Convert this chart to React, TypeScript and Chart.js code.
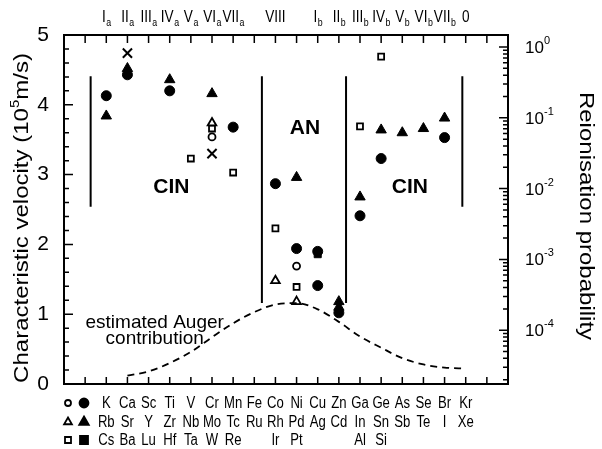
import React, { useEffect, useRef } from 'react';
import { Chart, registerables } from 'chart.js';
Chart.register(...registerables);

// ---------- data ----------
const elements = ['K', 'Ca', 'Sc', 'Ti', 'V', 'Cr', 'Mn', 'Fe', 'Co', 'Ni', 'Cu', 'Zn', 'Ga', 'Ge', 'As', 'Se', 'Br', 'Kr'];
const row2Elements = ['Rb', 'Sr', 'Y', 'Zr', 'Nb', 'Mo', 'Tc', 'Ru', 'Rh', 'Pd', 'Ag', 'Cd', 'In', 'Sn', 'Sb', 'Te', 'I', 'Xe'];
const row3Elements = ['Cs', 'Ba', 'Lu', 'Hf', 'Ta', 'W', 'Re', '', 'Ir', 'Pt', '', '', 'Al', 'Si', '', '', '', ''];

const groupNames = ['I', 'II', 'III', 'IV', 'V', 'VI', 'VII', 'VIII', 'I', 'II', 'III', 'IV', 'V', 'VI', 'VII', '0'];
const groupSubs = ['a', 'a', 'a', 'a', 'a', 'a', 'a', '', 'b', 'b', 'b', 'b', 'b', 'b', 'b', ''];
const groupColumns = ['K', 'Ca', 'Sc', 'Ti', 'V', 'Cr', 'Mn', 'Co', 'Cu', 'Zn', 'Ga', 'Ge', 'As', 'Se', 'Br', 'Kr'];

const filledCircleEl = ['K', 'Ca', 'Ti', 'Mn', 'Co', 'Ni', 'Cu', 'Cu', 'Zn', 'Ga', 'Ge', 'Br'];
const filledCircleV = [4.13, 4.43, 4.2, 3.68, 2.87, 1.94, 1.9, 1.41, 1.02, 2.41, 3.23, 3.53];
const filledTriangleEl = ['K', 'Ca', 'Ti', 'Cr', 'Ni', 'Zn', 'Zn', 'Ga', 'Ge', 'As', 'Se', 'Br'];
const filledTriangleV = [3.84, 4.52, 4.36, 4.16, 2.96, 1.1, 1.18, 2.68, 3.64, 3.6, 3.66, 3.81];
const filledSquareEl = ['Cu'];
const filledSquareV = [1.86];
const openCircleEl = ['Cr', 'Ni'];
const openCircleV = [3.54, 1.69];
const openTriangleEl = ['Cr', 'Co', 'Ni'];
const openTriangleV = [3.74, 1.48, 1.18];
const openSquareEl = ['V', 'Cr', 'Mn', 'Co', 'Ni', 'Ga', 'Ge'];
const openSquareV = [3.23, 3.66, 3.03, 2.23, 1.39, 3.69, 4.69];
const crossEl = ['Ca', 'Cr'];
const crossV = [4.74, 3.3];

const augerEl = ['Ca', 'Sc', 'Ti', 'V', 'Cr', 'Mn', 'Fe', 'Co', 'Ni', 'Cu', 'Zn', 'Ga', 'Ge', 'As', 'Se', 'Br', 'Kr'];
const augerV = [0.12, 0.18, 0.3, 0.46, 0.67, 0.87, 1.03, 1.14, 1.16, 1.07, 0.89, 0.68, 0.52, 0.37, 0.28, 0.235, 0.22];

// region boundaries (x in element-position units, y in velocity units)
const boundaryX = [1.26, 9.36, 13.34, 18.84];
const boundaryTop = [4.41, 4.41, 4.41, 4.41];
const boundaryBottom = [2.54, 1.16, 1.16, 2.54];

const regionLabels = ['CIN', 'AN', 'CIN'];
const regionLabelX = [5.08, 11.4, 16.36];
const regionLabelY = [2.85, 3.69, 2.85];

const probDecades = [0, -1, -2, -3, -4];

const FONT = "'Liberation Sans', Arial, Helvetica, sans-serif";

const posOf = (el: string) => elements.indexOf(el) + 2;
const pts = (els: string[], vals: number[]) => els.map((e, i) => ({ x: posOf(e), y: vals[i] }));

function txt(ctx: CanvasRenderingContext2D, s: string, x: number, y: number, size: number, sx = 1, align: CanvasTextAlign = 'center', bold = false) {
  ctx.save();
  ctx.font = `${bold ? 'bold ' : ''}${size}px ${FONT}`;
  ctx.translate(x, y);
  ctx.scale(sx, 1);
  ctx.textAlign = align;
  ctx.textBaseline = 'alphabetic';
  ctx.fillStyle = '#000';
  ctx.fillText(s, 0, 0);
  ctx.restore();
}

function marker(ctx: CanvasRenderingContext2D, kind: string, filled: boolean, x: number, y: number) {
  ctx.save();
  ctx.lineWidth = 1.8;
  ctx.strokeStyle = '#000';
  ctx.fillStyle = filled ? '#000' : '#fff';
  ctx.beginPath();
  if (kind === 'circle') ctx.arc(x, y, filled ? 4.5 : 3, 0, Math.PI * 2);
  else if (kind === 'triangle') {
    const r = filled ? 5.5 : 4.5;
    ctx.moveTo(x, y - r);
    ctx.lineTo(x + r * 0.866, y + r * 0.5);
    ctx.lineTo(x - r * 0.866, y + r * 0.5);
    ctx.closePath();
  } else {
    const h = filled ? 4 : 3;
    ctx.rect(x - h, y - h, 2 * h, 2 * h);
  }
  ctx.fill();
  ctx.stroke();
  ctx.restore();
}

const decorPlugin = {
  id: 'decor',
  afterDraw(chart: any) {
    const ctx: CanvasRenderingContext2D = chart.ctx;
    const { left, right, top, bottom } = chart.chartArea;
    const xs = chart.scales.x;
    const ys = chart.scales.y;
    const y2 = chart.scales.y2;
    ctx.save();
    ctx.strokeStyle = '#000';
    ctx.fillStyle = '#000';
    // frame
    ctx.lineWidth = 2;
    ctx.strokeRect(left, top, right - left, bottom - top);
    // ticks
    ctx.lineWidth = 1.5;
    ctx.beginPath();
    for (let i = 1; i <= 20; i++) {
      const px = xs.getPixelForValue(i);
      ctx.moveTo(px, bottom);
      ctx.lineTo(px, bottom - 7);
      ctx.moveTo(px, top);
      ctx.lineTo(px, top + 8);
    }
    for (let k = 1; k < 25; k++) {
      const v = k * 0.2;
      const py = ys.getPixelForValue(v);
      const len = k % 5 === 0 ? 9 : 5;
      ctx.moveTo(left, py);
      ctx.lineTo(left + len, py);
    }
    for (let d = -5; d <= 0; d++) {
      for (let m = 1; m <= 9; m++) {
        const v = m * Math.pow(10, d);
        if (v < y2.min || v > y2.max) continue;
        const py = y2.getPixelForValue(v);
        const len = m === 1 ? 9 : 5;
        ctx.moveTo(right, py);
        ctx.lineTo(right - len, py);
      }
    }
    ctx.stroke();

    // right axis labels 10^n
    probDecades.forEach((d) => {
      const py = y2.getPixelForValue(Math.pow(10, d));
      txt(ctx, '10', 525, py + 6, 17, 1, 'left');
      txt(ctx, d === 0 ? '0' : '-' + String(-d), 544, py - 3, 11, 1, 'left');
    });

    // left title
    ctx.save();
    ctx.translate(22, 218);
    ctx.rotate(-Math.PI / 2);
    ctx.scale(1, 0.85);
    ctx.textBaseline = 'middle';
    ctx.font = `24px ${FONT}`;
    const p1 = 'Characteristic velocity (10';
    const p2 = '5';
    const p3 = 'm/s)';
    const w1 = ctx.measureText(p1).width;
    const w3 = ctx.measureText(p3).width;
    ctx.font = `15px ${FONT}`;
    const w2 = ctx.measureText(p2).width;
    let sx0 = -(w1 + w2 + w3) / 2;
    ctx.textAlign = 'left';
    ctx.font = `24px ${FONT}`;
    ctx.fillText(p1, sx0, 0);
    ctx.font = `15px ${FONT}`;
    ctx.fillText(p2, sx0 + w1, -8);
    ctx.font = `24px ${FONT}`;
    ctx.fillText(p3, sx0 + w1 + w2, 0);
    ctx.restore();

    // right title
    ctx.save();
    ctx.translate(586, 216);
    ctx.rotate(Math.PI / 2);
    ctx.scale(1, 0.85);
    ctx.textBaseline = 'middle';
    ctx.textAlign = 'center';
    ctx.font = `24px ${FONT}`;
    ctx.fillText('Reionisation probability', 0, 0);
    ctx.restore();

    // group labels on top
    groupColumns.forEach((el, i) => {
      const cx = xs.getPixelForValue(posOf(el));
      const sxm = 0.8;
      ctx.font = `17px ${FONT}`;
      const wm = ctx.measureText(groupNames[i]).width * sxm;
      ctx.font = `11px ${FONT}`;
      const ws = groupSubs[i] ? ctx.measureText(groupSubs[i]).width * sxm : 0;
      const start = cx - (wm + ws) / 2;
      txt(ctx, groupNames[i], start, 22, 17, sxm, 'left');
      if (groupSubs[i]) txt(ctx, groupSubs[i], start + wm + 0.5, 26, 11, sxm, 'left');
    });

    // element rows on bottom
    const rows = [elements, row2Elements, row3Elements];
    const rowBase = [408, 427, 445];
    rows.forEach((row, r) => {
      row.forEach((el, i) => {
        if (!el) return;
        const cx = xs.getPixelForValue(i + 2);
        txt(ctx, el, cx, rowBase[r], 16, 0.82, 'center');
      });
    });
    // symbol legend
    const kinds = ['circle', 'triangle', 'square'];
    kinds.forEach((k, r) => {
      const cy = rowBase[r] - 5;
      marker(ctx, k, false, 68, cy);
      marker(ctx, k, true, 84, cy);
    });

    // region labels
    regionLabels.forEach((s, i) => {
      const px = xs.getPixelForValue(regionLabelX[i]);
      const py = ys.getPixelForValue(regionLabelY[i]);
      txt(ctx, s, px, py + 7.5, 21, 1, 'center', true);
    });

    // Auger note
    const ax = xs.getPixelForValue(4.29);
    txt(ctx, 'estimated Auger', ax, ys.getPixelForValue(0.8), 19, 1, 'center');
    txt(ctx, 'contribution', ax, ys.getPixelForValue(0.57), 19, 1, 'center');

    ctx.restore();
  },
};

export default function App() {
  const ref = useRef<HTMLCanvasElement>(null);
  useEffect(() => {
    if (!ref.current) return;
    const scatterSet = (data: any[], style: string, filled: boolean, radius: number, bw = 1.8) => ({
      data,
      pointStyle: style,
      pointRadius: radius,
      pointBackgroundColor: filled ? '#000' : '#fff',
      pointBorderColor: '#000',
      pointBorderWidth: bw,
      showLine: false,
    });
    const datasets: any[] = [
      {
        data: pts(augerEl, augerV),
        showLine: true,
        borderColor: '#000',
        borderWidth: 1.8,
        borderDash: [7, 5],
        pointRadius: 0,
        cubicInterpolationMode: 'monotone',
        fill: false,
      },
      ...boundaryX.map((bx, i) => ({
        data: [{ x: bx, y: boundaryTop[i] }, { x: bx, y: boundaryBottom[i] }],
        showLine: true,
        borderColor: '#000',
        borderWidth: 2,
        pointRadius: 0,
        fill: false,
      })),
      scatterSet(pts(filledSquareEl, filledSquareV), 'rect', true, 5, 1),
      scatterSet(pts(filledCircleEl, filledCircleV), 'circle', true, 5, 1),
      scatterSet(pts(filledTriangleEl, filledTriangleV), 'triangle', true, 6, 1),
      scatterSet(pts(openCircleEl, openCircleV), 'circle', false, 3.5),
      scatterSet(pts(openTriangleEl, openTriangleV), 'triangle', false, 5),
      scatterSet(pts(openSquareEl, openSquareV), 'rect', false, 4.2),
      scatterSet(pts(crossEl, crossV), 'crossRot', false, 6.5, 2),
    ];
    const chart = new Chart(ref.current, {
      type: 'scatter',
      data: { datasets },
      options: {
        animation: false,
        responsive: true,
        maintainAspectRatio: false,
        layout: { padding: { top: 35, bottom: 65, left: 0, right: 0 } },
        plugins: { legend: { display: false }, tooltip: { enabled: false } },
        scales: {
          x: { type: 'linear', min: 0, max: 21, display: false },
          y: {
            type: 'linear',
            position: 'left',
            min: 0,
            max: 5,
            ticks: { stepSize: 1, color: '#000', padding: 15, font: { size: 21, family: FONT } },
            grid: { display: false, drawTicks: false },
            border: { display: false },
            afterFit: (s: any) => {
              s.width = 64;
            },
          },
          y2: {
            type: 'logarithmic',
            position: 'right',
            min: Math.pow(10, -4.76),
            max: Math.pow(10, 0.17),
            ticks: { display: false },
            grid: { display: false, drawTicks: false },
            border: { display: false },
            afterFit: (s: any) => {
              s.width = 94;
            },
          },
        },
      },
      plugins: [decorPlugin],
    } as any);
    return () => chart.destroy();
  }, []);
  return (
    <div style={{ position: 'absolute', left: 0, top: 0, width: 602, height: 449, background: '#fff' }}>
      <canvas ref={ref} />
    </div>
  );
}
